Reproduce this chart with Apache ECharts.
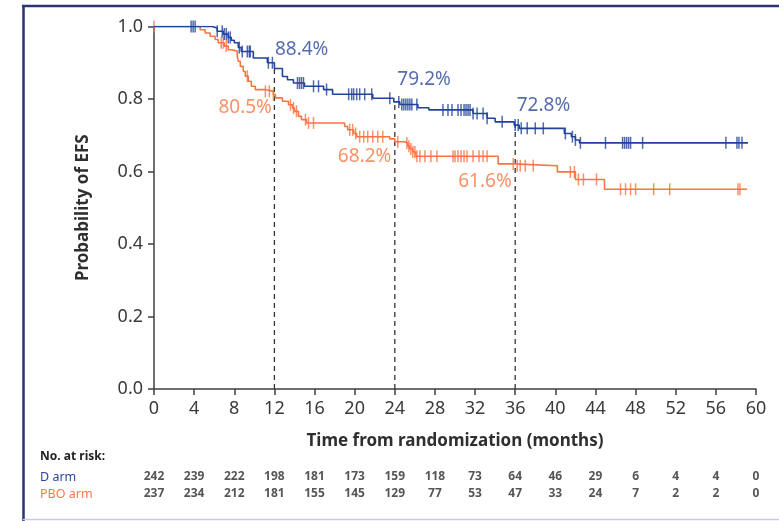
<!DOCTYPE html>
<html>
<head>
<meta charset="utf-8">
<script src="https://cdn.jsdelivr.net/npm/echarts@6/dist/echarts.min.js"></script>
<style>
html,body{margin:0;padding:0;background:#fff;}
#chart{width:779px;height:521px;}
</style>
</head>
<body>
<div id="chart"></div>
<script>
// ---- Data ----
// D arm Kaplan-Meier step points (time in months, survival after the step)
const dTimes = [0, 5.8, 6.3, 6.9, 7.4, 7.7, 8.0, 8.4, 8.7, 9.9, 11.3, 12.0, 12.8, 13.3, 13.9, 15.0, 16.9, 17.8, 21.8, 23.9, 24.5, 26.3, 27.4, 31.8, 33.2, 34.0, 35.9, 36.4, 40.9, 41.6, 42.0, 42.4, 59.2];
const dSurv  = [1.0, 0.996, 0.987, 0.979, 0.970, 0.962, 0.955, 0.942, 0.931, 0.913, 0.900, 0.884, 0.862, 0.853, 0.844, 0.835, 0.826, 0.813, 0.802, 0.792, 0.785, 0.776, 0.770, 0.760, 0.747, 0.737, 0.728, 0.719, 0.705, 0.696, 0.687, 0.679, 0.679];
const dCensor = [3.7, 3.9, 4.1, 6.3, 6.8, 7.0, 7.2, 7.4, 7.6, 8.5, 8.8, 9.3, 9.5, 9.6, 11.4, 11.8, 14.3, 14.5, 14.7, 14.9, 15.9, 16.4, 17.2, 19.4, 19.7, 19.9, 20.2, 20.5, 21.0, 21.7, 23.5, 24.4, 24.7, 24.9, 25.1, 25.3, 25.5, 25.7, 26.2, 28.8, 29.3, 29.7, 30.3, 30.6, 30.9, 31.1, 31.3, 31.5, 31.8, 32.2, 32.8, 33.2, 34.7, 36.0, 36.3, 36.6, 37.2, 38.0, 38.8, 41.0, 41.7, 42.0, 42.5, 45.0, 46.7, 46.9, 47.1, 47.3, 47.5, 48.7, 57.0, 58.1, 58.3, 58.6];

// PBO arm Kaplan-Meier step points
const pTimes = [0, 4.6, 5.1, 5.6, 6.1, 6.4, 7.0, 7.4, 7.7, 8.3, 8.4, 8.6, 8.9, 9.1, 9.4, 9.7, 10.1, 11.1, 11.9, 12.1, 12.8, 13.4, 13.8, 14.0, 14.4, 14.7, 15.2, 19.0, 19.3, 19.9, 20.2, 23.5, 24.0, 25.0, 25.3, 25.5, 25.8, 26.1, 34.3, 35.9, 40.2, 42.0, 44.9, 59.1];
const pSurv  = [1.0, 0.991, 0.982, 0.973, 0.964, 0.955, 0.946, 0.936, 0.932, 0.918, 0.904, 0.890, 0.876, 0.863, 0.849, 0.835, 0.826, 0.821, 0.812, 0.803, 0.794, 0.784, 0.775, 0.766, 0.752, 0.743, 0.734, 0.724, 0.715, 0.705, 0.696, 0.690, 0.682, 0.678, 0.670, 0.662, 0.654, 0.642, 0.621, 0.616, 0.599, 0.578, 0.551, 0.551];
const pCensor = [0, 6.7, 6.9, 7.2, 9.3, 11.1, 11.5, 11.9, 13.6, 13.9, 14.2, 15.1, 15.4, 15.9, 19.5, 19.8, 20.1, 20.5, 20.9, 21.3, 21.8, 22.3, 22.8, 24.3, 25.2, 25.4, 25.6, 25.8, 26.0, 26.2, 26.5, 27.0, 27.6, 28.2, 29.8, 30.0, 30.3, 30.6, 30.9, 31.2, 31.8, 32.4, 32.8, 33.2, 35.8, 36.2, 36.5, 37.0, 37.8, 41.5, 41.9, 42.3, 42.8, 44.1, 46.5, 47.0, 47.5, 48.0, 49.8, 51.4, 58.2, 58.4];

// Milestone estimates
const milestoneTimes = [12, 24, 36];
const dMilestone = [0.884, 0.792, 0.728];
const pMilestone = [0.805, 0.682, 0.616];

// Number at risk
const riskTimes = [0, 4, 8, 12, 16, 20, 24, 28, 32, 36, 40, 44, 48, 52, 56, 60];
const dRisk = [242, 239, 222, 198, 181, 173, 159, 118, 73, 64, 46, 29, 6, 4, 4, 0];
const pRisk = [237, 234, 212, 181, 155, 145, 129, 77, 53, 47, 33, 24, 7, 2, 2, 0];

// Labels
const armNames = ['D arm', 'PBO arm'];

// ---- Styling ----
const BLUE = '#22439a';
const ORANGE = '#fb7443';
const BLUE_TXT = '#2c4899';
const ORANGE_TXT = '#f7753f';
const AXIS = '#3f3f3f';
const FONT = '"Noto Sans", "Open Sans", sans-serif';

function stepLookup(times, surv, t) {
  let v = surv[0];
  for (let i = 0; i < times.length; i++) { if (times[i] <= t) v = surv[i]; else break; }
  return v;
}
const zip = (a, b) => a.map((x, i) => [x, b[i]]);

const chart = echarts.init(document.getElementById('chart'), null, {renderer: 'canvas'});

const censorSymbol = {symbol: 'rect', symbolSize: [1.5, 12]};

const series = [];
// dashed milestone lines
milestoneTimes.forEach((t, i) => {
  series.push({
    type: 'line', xAxisIndex: 0, yAxisIndex: 0, silent: true, symbol: 'none',
    data: [[t, 0], [t, dMilestone[i]]],
    lineStyle: {color: '#333', width: 1.3, type: [5, 4]}, z: 1
  });
});
series.push({
  name: 'PBO arm', type: 'line', step: 'end', symbol: 'none',
  data: zip(pTimes, pSurv), lineStyle: {color: ORANGE, width: 1.6}, z: 3
});
series.push({
  name: 'PBO censor', type: 'scatter', ...censorSymbol,
  data: pCensor.map(t => [t, stepLookup(pTimes, pSurv, t)]),
  itemStyle: {color: ORANGE}, z: 3
});
series.push({
  name: 'D arm', type: 'line', step: 'end', symbol: 'none',
  data: zip(dTimes, dSurv), lineStyle: {color: BLUE, width: 1.6}, z: 4
});
series.push({
  name: 'D censor', type: 'scatter', ...censorSymbol,
  data: dCensor.map(t => [t, stepLookup(dTimes, dSurv, t)]),
  itemStyle: {color: BLUE}, z: 4
});
// milestone annotations
const dLabelPos = [[1, -18], [3, -22], [2, -19]];
const pLabelPos = [[-2, 11], [-3, 15], [-3, 16]];
series.push({
  type: 'scatter', symbolSize: 1, itemStyle: {color: 'rgba(0,0,0,0)'}, silent: true, z: 5,
  data: milestoneTimes.map((t, i) => ({
    value: [t, dMilestone[i]],
    label: {show: true, position: dLabelPos[i], align: 'left', verticalAlign: 'middle',
      formatter: (dMilestone[i] * 100).toFixed(1) + '%',
      color: BLUE_TXT, fontSize: 19, fontFamily: FONT}
  }))
});
series.push({
  type: 'scatter', symbolSize: 1, itemStyle: {color: 'rgba(0,0,0,0)'}, silent: true, z: 5,
  data: milestoneTimes.map((t, i) => ({
    value: [t, pMilestone[i]],
    label: {show: true, position: pLabelPos[i], align: 'right', verticalAlign: 'middle',
      formatter: (pMilestone[i] * 100).toFixed(1) + '%',
      color: ORANGE_TXT, fontSize: 19, fontFamily: FONT}
  }))
});
// risk table
[[dRisk, armNames[0]], [pRisk, armNames[1]]].forEach(([arr, name]) => {
  series.push({
    type: 'scatter', xAxisIndex: 1, yAxisIndex: 1, symbolSize: 1,
    itemStyle: {color: 'rgba(0,0,0,0)'}, silent: true,
    data: riskTimes.map((t, i) => [t, name, arr[i]]),
    label: {show: true, position: 'inside', formatter: p => String(p.value[2]),
      color: '#2a2a2a', fontSize: 12, fontWeight: 'bold', fontFamily: FONT}
  });
});

const option = {
  backgroundColor: '#ffffff',
  animation: false,
  textStyle: {fontFamily: FONT},
  grid: [
    {left: 154, right: 23, top: 26.5, bottom: 132, containLabel: false},
    {left: 154, right: 23, top: 468.5, height: 34, containLabel: false}
  ],
  xAxis: [
    {
      type: 'value', gridIndex: 0, min: 0, max: 60, interval: 4,
      name: 'Time from randomization (months)', nameLocation: 'middle', nameGap: 44,
      nameTextStyle: {fontSize: 17, fontWeight: 'bold', color: '#2f2f2f', fontFamily: FONT},
      axisLine: {show: true, lineStyle: {color: AXIS, width: 1.5}},
      axisTick: {show: true, length: 6, lineStyle: {color: AXIS, width: 1.5}},
      axisLabel: {fontSize: 18, color: '#3a3a3a', margin: 11, fontFamily: FONT},
      splitLine: {show: false}
    },
    {
      type: 'value', gridIndex: 1, min: 0, max: 60, interval: 4, show: false
    }
  ],
  yAxis: [
    {
      type: 'value', gridIndex: 0, min: 0, max: 1, interval: 0.2,
      name: 'Probability of EFS', nameLocation: 'middle', nameGap: 62, nameRotate: 90,
      nameTextStyle: {fontSize: 17, fontWeight: 'bold', color: '#2f2f2f', fontFamily: FONT},
      axisLine: {show: true, lineStyle: {color: AXIS, width: 1.5}},
      axisTick: {show: true, length: 6, lineStyle: {color: AXIS, width: 1.5}},
      axisLabel: {fontSize: 18, color: '#3a3a3a', margin: 11, fontFamily: FONT,
        formatter: v => v.toFixed(1)},
      splitLine: {show: false}
    },
    {
      type: 'category', gridIndex: 1, data: [armNames[1], armNames[0]],
      axisLine: {show: false}, axisTick: {show: false}, splitLine: {show: false},
      axisLabel: {
        show: true, align: 'left', margin: 114,
        formatter: v => v === armNames[0] ? '{d|' + v + '}' : '{p|' + v + '}',
        rich: {
          d: {color: '#2b44a0', fontSize: 12.5, fontFamily: FONT},
          p: {color: '#f8784a', fontSize: 12.5, fontFamily: FONT}
        }
      }
    }
  ],
  graphic: [
    {type: 'text', left: 40, top: 451, style: {text: 'No. at risk:', fontSize: 12, fontWeight: 'bold', fill: '#222', fontFamily: FONT}},
    {type: 'line', shape: {x1: 23.5, y1: 5, x2: 23.5, y2: 521}, style: {stroke: '#2d3272', lineWidth: 2.5}},
    {type: 'line', shape: {x1: 22, y1: 6, x2: 779, y2: 6}, style: {stroke: '#2d3272', lineWidth: 2.5}},
    {type: 'line', shape: {x1: 23, y1: 519.5, x2: 779, y2: 519.5}, style: {stroke: '#cbcbe0', lineWidth: 1.5}}
  ],
  series: series
};
chart.setOption(option);
</script>
</body>
</html>
